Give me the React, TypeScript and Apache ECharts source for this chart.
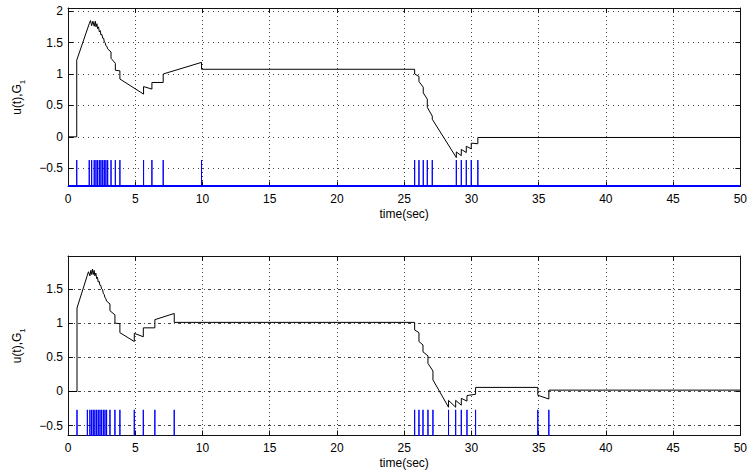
import React, { useEffect, useRef } from "react";
import * as echarts from "echarts";

// ---------- data ----------
const xMin = 0;
const xMax = 50;
const xInterval = 5;

const topYMin = -0.79;
const topYMax = 2.05;
const botYMin = -0.643;
const botYMax = 1.98;

// event (G1) instants, seconds
const topEvents = [
  0.65, 1.58, 1.76, 1.95, 2.08, 2.2, 2.33, 2.45, 2.58, 2.7, 2.82, 2.95, 3.2, 3.52, 3.86,
  5.62, 6.24, 7.08, 9.93, 25.78, 26.1, 26.42, 26.72, 27.09, 28.88, 29.25, 29.62, 29.99, 30.48,
];
const botEvents = [
  0.67, 1.44, 1.63, 1.76, 1.88, 2.0, 2.13, 2.25, 2.38, 2.5, 2.63, 2.75, 2.87, 3.12, 3.49, 3.86,
  4.93, 5.6, 6.46, 7.9, 25.78, 26.1, 26.4, 26.77, 27.14, 28.3, 28.83, 29.25, 29.67, 30.31,
  34.94, 35.76,
];

const topPulseBase = -0.782;
const topPulseTop = -0.37;
const botPulseBase = -0.7;
const botPulseTop = -0.268;

// u(t), top
const topU: number[][] = [
  [0, 0], [0.65, 0], [0.65, 1.22], [1.58, 1.8], [1.67, 1.85], [1.76, 1.77], [1.85, 1.84],
  [1.95, 1.76], [2.03, 1.84], [2.08, 1.75], [2.15, 1.8], [2.2, 1.72], [2.27, 1.75],
  [2.33, 1.67], [2.4, 1.69], [2.45, 1.62], [2.52, 1.63], [2.58, 1.57], [2.65, 1.57],
  [2.7, 1.51], [2.76, 1.5], [2.82, 1.45], [2.89, 1.44], [2.95, 1.4], [3.2, 1.35],
  [3.2, 1.25], [3.52, 1.17], [3.52, 1.06], [3.86, 1.05], [3.86, 0.92], [5.62, 0.68],
  [5.62, 0.8], [6.24, 0.76], [6.24, 0.865], [7.08, 0.865], [7.08, 1.0], [9.93, 1.185],
  [9.93, 1.075], [25.78, 1.075], [25.78, 1.0], [26.1, 0.96], [26.1, 0.88], [26.42, 0.79],
  [26.42, 0.7], [26.72, 0.6], [26.72, 0.47], [27.09, 0.33], [27.09, 0.28], [28.88, -0.33],
  [28.88, -0.24], [29.25, -0.3], [29.25, -0.2], [29.62, -0.25], [29.62, -0.15],
  [29.99, -0.19], [29.99, -0.1], [30.48, -0.11], [30.48, -0.01], [50, -0.01],
];

// u(t), bottom
const botU: number[][] = [
  [0, 0], [0.67, 0], [0.67, 1.22], [1.44, 1.7], [1.52, 1.75], [1.63, 1.69], [1.7, 1.77],
  [1.76, 1.71], [1.82, 1.79], [1.88, 1.71], [1.94, 1.77], [2.0, 1.69], [2.07, 1.73],
  [2.13, 1.65], [2.19, 1.67], [2.25, 1.6], [2.32, 1.61], [2.38, 1.55], [2.44, 1.55],
  [2.5, 1.5], [2.57, 1.49], [2.63, 1.43], [2.69, 1.42], [2.75, 1.37], [2.81, 1.36],
  [2.87, 1.32], [3.12, 1.28], [3.12, 1.18], [3.49, 1.12], [3.49, 1.0], [3.86, 0.99],
  [3.86, 0.86], [4.93, 0.73], [4.93, 0.85], [5.6, 0.8], [5.6, 0.93], [6.46, 0.93],
  [6.46, 1.05], [7.9, 1.14], [7.9, 1.01], [25.78, 1.01], [25.78, 0.9], [26.1, 0.86],
  [26.1, 0.73], [26.4, 0.68], [26.4, 0.58], [26.77, 0.52], [26.77, 0.41], [27.14, 0.3],
  [27.14, 0.17], [28.3, -0.23], [28.3, -0.13], [28.83, -0.23], [28.83, -0.13],
  [29.25, -0.2], [29.25, -0.1], [29.67, -0.14], [29.67, -0.06], [30.31, -0.04],
  [30.31, 0.06], [34.94, 0.06], [34.94, -0.055], [35.76, -0.11], [35.76, 0.02], [50, 0.02],
];

// ---------- helpers ----------
const FONT = "'Liberation Sans', Arial, Helvetica, sans-serif";

function pulses(events: number[], base: number, top: number): number[][] {
  const pts: number[][] = [[xMin, base]];
  events.forEach((t) => {
    pts.push([t, base], [t, top], [t, base]);
  });
  pts.push([xMax, base]);
  return pts;
}

function yLabel(v: number): string {
  const k = v / 0.5;
  if (Math.abs(k - Math.round(k)) > 1e-6) return "";
  const r = Math.round(k) * 0.5;
  if (r === 0) return "0";
  return String(r).replace("-", "\u2212");
}

function makeAxes(gi: number, yMin: number, yMax: number, hDash: number[], vDash: number[]) {
  const line = { show: true, onZero: false, lineStyle: { color: "#111", width: 1 } };
  const tick = { show: true, inside: true, length: 5, lineStyle: { color: "#111", width: 1 } };
  const xs = [
    {
      gridIndex: gi,
      type: "value",
      position: "bottom",
      min: xMin,
      max: xMax,
      interval: xInterval,
      axisLine: line,
      axisTick: tick,
      axisLabel: { color: "#000", fontSize: 12, margin: 6, fontFamily: FONT },
      splitLine: { show: true, lineStyle: { color: "#444", width: 1, type: vDash } },
      name: "time(sec)",
      nameLocation: "middle",
      nameGap: 21,
      nameTextStyle: { color: "#000", fontSize: 12, fontFamily: FONT },
    },
    {
      gridIndex: gi,
      type: "value",
      position: "top",
      min: xMin,
      max: xMax,
      interval: xInterval,
      axisLine: line,
      axisTick: tick,
      axisLabel: { show: false },
      splitLine: { show: false },
    },
  ];
  const ys = [
    {
      gridIndex: gi,
      type: "value",
      position: "left",
      min: yMin,
      max: yMax,
      splitNumber: 5,
      axisLine: line,
      axisTick: tick,
      axisLabel: { color: "#000", fontSize: 12, margin: 5, fontFamily: FONT, formatter: yLabel },
      splitLine: { show: true, lineStyle: { color: "#444", width: 1, type: hDash } },
      name: "{a|u(t),G}{b|1}",
      nameLocation: "middle",
      nameGap: 42,
      nameTextStyle: {
        color: "#000",
        fontFamily: FONT,
        rich: {
          a: { fontSize: 12, lineHeight: 18, color: "#000", fontFamily: FONT },
          b: { fontSize: 8, lineHeight: 8, verticalAlign: "bottom", color: "#000", fontFamily: FONT },
        },
      },
    },
    {
      gridIndex: gi,
      type: "value",
      position: "right",
      min: yMin,
      max: yMax,
      splitNumber: 5,
      axisLine: line,
      axisTick: tick,
      axisLabel: { show: false },
      splitLine: { show: false },
    },
  ];
  return { xs, ys };
}

export default function App() {
  const ref = useRef<HTMLDivElement>(null);

  useEffect(() => {
    if (!ref.current) return;
    const chart = echarts.init(ref.current, undefined, { renderer: "svg" });
    const a = makeAxes(0, topYMin, topYMax, [1, 4], [1, 3]);
    const b = makeAxes(1, botYMin, botYMax, [3, 3, 1, 3], [1, 3]);

    const lineSeries = (xi: number, yi: number, data: number[][], color: string, width: number, z = 2) => ({
      type: "line",
      xAxisIndex: xi,
      yAxisIndex: yi,
      data,
      showSymbol: false,
      symbol: "none",
      clip: true,
      z,
      lineStyle: { color, width },
      emphasis: { disabled: true },
    });

    chart.setOption({
      animation: false,
      backgroundColor: "#fff",
      grid: [
        { left: 68, top: 8, width: 673, height: 178.5 },
        { left: 68, top: 256, width: 673, height: 179.5 },
      ],
      xAxis: [...a.xs, ...b.xs],
      yAxis: [...a.ys, ...b.ys],
      series: [
        lineSeries(0, 0, pulses(topEvents, topPulseBase, topPulseTop), "#0000ff", 1, 2),
        lineSeries(0, 0, [[xMin, topPulseBase], [xMax, topPulseBase]], "#0000ff", 2, 2),
        lineSeries(0, 0, topU, "#000000", 1, 3),
        lineSeries(2, 2, pulses(botEvents, botPulseBase, botPulseTop), "#0000ff", 1, 2),
        lineSeries(2, 2, botU, "#000000", 1, 3),
      ],
    });
    return () => chart.dispose();
  }, []);

  return (
    <div
      ref={ref}
      style={{ position: "absolute", left: 0, top: 0, width: 750, height: 476, background: "#fff" }}
    />
  );
}
